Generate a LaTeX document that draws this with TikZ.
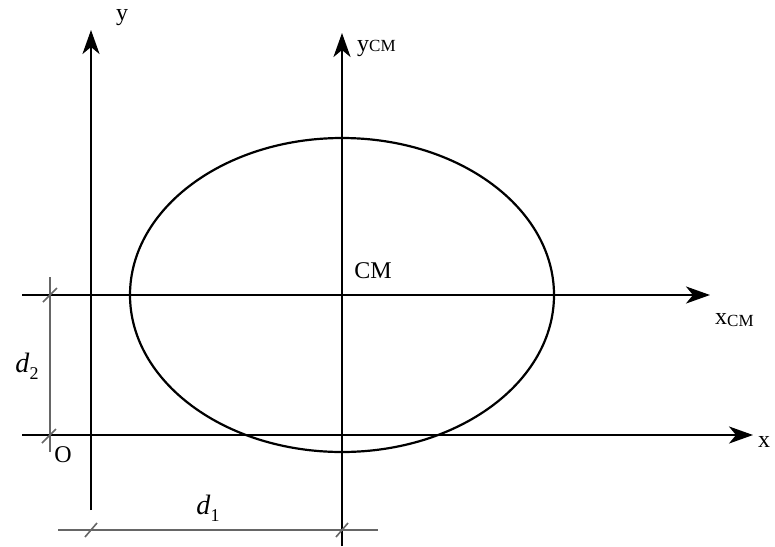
\documentclass[tikz,border=0pt]{standalone}
\usepackage{fontspec}
\setmainfont{Liberation Serif}
\usetikzlibrary{arrows.meta}
\begin{document}
\begin{tikzpicture}[x=1pt,y=-1pt,
  axis/.style={line width=2.6pt,-{Stealth[length=24pt,width=17pt,inset=7pt]}},
  dim/.style={line width=2pt,draw=black!60},
  tick/.style={line width=1.6pt,draw=black!60},
  lbl/.style={font=\fontsize{24}{28}\selectfont,inner sep=0pt}]
\useasboundingbox (0,0) rectangle (775,546);
% coordinates
\coordinate (yb) at (91,510);
\coordinate (yt) at (91,30);
\coordinate (ycb) at (342,546);
\coordinate (yct) at (342,33);
\coordinate (xcl) at (22,295);
\coordinate (xcr) at (710,295);
\coordinate (xl) at (22,435);
\coordinate (xr) at (753,435);
% ellipse
\draw[line width=2.2pt] (342,295) ellipse [x radius=212, y radius=157];
% axes
\draw[axis] (yb) -- (yt);
\draw[axis] (ycb) -- (yct);
\draw[axis] (xcl) -- (xcr);
\draw[axis] (xl) -- (xr);
% labels
\node[lbl] (ly) at (122,18) {y};
\node[lbl,anchor=base west] (lyc) at (357,51) {y{\fontsize{17}{20}\selectfont\raisebox{-0.5pt}{CM}}};
\node[lbl,anchor=base west] (lxc) at (715,324) {x{\fontsize{17}{20}\selectfont\raisebox{-2pt}{CM}}};
\node[lbl,anchor=base west] (lx) at (758,447) {x};
\node[lbl] (lcm) at (373,271) {CM};
\node[lbl] (lo) at (63,455) {O};
% d2 dimension
\coordinate (d2t) at (50,277);
\coordinate (d2b) at (50,452);
\draw[dim] (d2t) -- (d2b);
\draw[tick] (43,302) -- (57,288);
\draw[tick] (42,443) -- (56,429);
\node[lbl,font=\fontsize{28}{30}\selectfont] (ld2) at (27,366) {\textit{d}\raisebox{-7pt}{\fontsize{18}{20}\selectfont 2}};
% d1 dimension
\coordinate (d1l) at (58,530);
\coordinate (d1r) at (378,530);
\draw[dim] (d1l) -- (d1r);
\draw[tick] (85,537) -- (97,523);
\draw[tick] (336,537) -- (348,523);
\node[lbl,font=\fontsize{28}{30}\selectfont] (ld1) at (208,508) {\textit{d}\raisebox{-7pt}{\fontsize{18}{20}\selectfont 1}};
\end{tikzpicture}
\end{document}
